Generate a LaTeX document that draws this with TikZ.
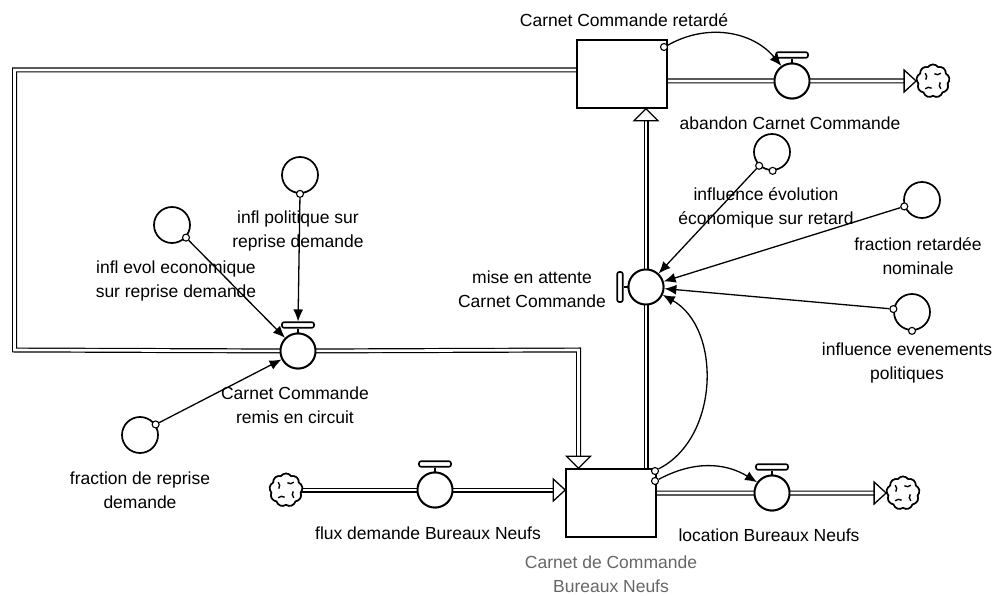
\documentclass[tikz,border=0pt]{standalone}
\usepackage{fontspec}
\setmainfont{Liberation Sans}
\usetikzlibrary{arrows.meta,shapes.symbols,positioning}
\begin{document}
\begin{tikzpicture}[x=1pt,y=-1pt,
  pipe/.style={double=white,double distance=2.6pt,line width=1.2pt},
  ftip/.style={draw,fill=white,line width=1.3pt,line join=miter},
  stock/.style={draw,fill=white,rectangle,minimum width=90pt,minimum height=68pt,line width=1.5pt,inner sep=0},
  valve/.style={draw,fill=white,circle,minimum size=35pt,inner sep=0,line width=1.9pt},
  aux/.style={draw,fill=white,circle,minimum size=36pt,inner sep=0,line width=1.7pt},
  cmark/.style={draw,fill=white,circle,minimum size=7pt,inner sep=0,line width=1.1pt},
  hbar/.style={draw,fill=white,rectangle,rounded corners=2pt,minimum width=32pt,minimum height=5.5pt,inner sep=0,line width=1.6pt},
  vbar/.style={draw,fill=white,rectangle,rounded corners=2pt,minimum width=5.5pt,minimum height=30pt,inner sep=0,line width=1.6pt},
  cloudn/.style={draw,fill=white,cloud,cloud puffs=9,cloud puff arc=110,aspect=1,minimum width=33pt,minimum height=33pt,inner sep=0,line width=1.6pt},
  conn/.style={line width=1.3pt,-{Latex[length=12pt,width=10pt]}},
  lbl/.style={font=\fontsize{17.5}{24}\selectfont,align=center,inner sep=0},
  stem/.style={line width=1.6pt}
]
\useasboundingbox (0,0) rectangle (996,596);

% coordinates for pipe bends
\coordinate (k1) at (14.5,70);
\coordinate (k2) at (14.5,350);
\coordinate (k3) at (578.5,350);

% node positions (placed first so that the pipes can refer to them)
\path (622,74) node[stock] (sA) {};
\path (611,503) node[stock] (sB) {};
\path (792,81) node[valve] (vAb) {};
\path (298,351) node[valve] (vRe) {};
\path (646,287) node[valve] (vMa) {};
\path (435,490) node[valve] (vFl) {};
\path (772,493) node[valve] (vLo) {};
\path (933,81) node[cloudn] (cAb) {};
\path (286,490) node[cloudn] (cFl) {};
\path (903,493) node[cloudn] (cLo) {};

% pipes
\draw[pipe] (sA.west |- k1) -- (k1) -- (k2) -- (vRe.center);
\draw[pipe] (vRe.center) -- (k3) -- ([yshift=12pt]k3 |- sB.north);
\draw[pipe] (sB.north -| vMa) -- ([yshift=-12pt]sA.south -| vMa);
\draw[pipe] (sA.east |- vAb) -- (vAb.center) -- ([xshift=-12pt]cAb.west);
\draw[pipe] (cFl.center) -- (vFl.center) -- ([xshift=-12pt]sB.west |- vFl);
\draw[pipe] (sB.east |- vLo) -- (vLo.center) -- ([xshift=-12pt]cLo.west);

% redraw nodes on top of pipes
\path (622,74) node[stock] (sA) {};
\path (611,503) node[stock] (sB) {};
\path (792,81) node[valve] (vAb) {};
\path (298,351) node[valve] (vRe) {};
\path (646,287) node[valve] (vMa) {};
\path (435,490) node[valve] (vFl) {};
\path (772,493) node[valve] (vLo) {};
\path (933,81) node[cloudn] (cAb) {};
\path (286,490) node[cloudn] (cFl) {};
\path (903,493) node[cloudn] (cLo) {};

\foreach \c in {cAb,cFl,cLo}{
  \foreach \a in {45,135,225,315}{
    \draw[line width=1.4pt] ([shift={(\a:11pt)}]\c.center) arc[start angle=\a-90, delta angle=-80, radius=5pt];
  }
}

% valve handles
\node[hbar, above=4pt of vAb] (hAb) {};
\node[hbar, above=4pt of vRe] (hRe) {};
\node[hbar, above=4pt of vFl] (hFl) {};
\node[hbar, above=4pt of vLo] (hLo) {};
\node[vbar, left=4pt of vMa] (hMa) {};
\draw[stem] (vAb.north) -- (hAb.south);
\draw[stem] (vRe.north) -- (hRe.south);
\draw[stem] (vFl.north) -- (hFl.south);
\draw[stem] (vLo.north) -- (hLo.south);
\draw[stem] (vMa.west) -- (hMa.east);

% flow arrowheads
\draw[ftip] (k3 |- sB.north) -- ++(-12,-12) -- ++(24,0) -- cycle;
\draw[ftip] (sA.south -| vMa) -- ++(-12,12) -- ++(24,0) -- cycle;
\draw[ftip] (cAb.west) -- ++(-12,-11) -- ++(0,22) -- cycle;
\draw[ftip] (sB.west |- vFl) -- ++(-12,-11) -- ++(0,22) -- cycle;
\draw[ftip] (cLo.west) -- ++(-12,-11) -- ++(0,22) -- cycle;

% auxiliaries
\node[aux] (aIeE) at (772,152) {};
\node[aux] (aFrn) at (922,200) {};
\node[aux] (aIep) at (912,312) {};
\node[aux] (aIp) at (300,175) {};
\node[aux] (aIee) at (172,225) {};
\node[aux] (aFdr) at (140,435) {};

% connector origin marks
\node[cmark] (mIeE) at (aIeE.227) {};
\node[cmark] (mIeE2) at (aIeE.272) {};
\node[cmark] (mFrn) at (aFrn.200) {};
\node[cmark] (mIep) at (aIep.171) {};
\node[cmark] (mIep2) at (aIep.270) {};
\node[cmark] (mIp) at (aIp.270) {};
\node[cmark] (mIee) at (aIee.318) {};
\node[cmark] (mFdr) at (aFdr.34) {};
\node[cmark] (mA) at (664,47) {};
\node[cmark] (mB1) at (655,471) {};
\node[cmark] (mB2) at (655,481) {};

% connectors
\draw[conn] (mA) to[bend left=40] (vAb);
\draw[conn] (mIeE) -- (vMa);
\draw[conn] (mFrn) -- (vMa);
\draw[conn] (mIep) -- (vMa);
\draw[conn] (mB1) to[bend right=62] (vMa);
\draw[conn] (mB2) to[bend left=30] (vLo);
\draw[conn] (mIp) -- (hRe);
\draw[conn] (mIee) -- (vRe);
\draw[conn] (mFdr) -- (vRe);

% labels
\node[lbl] (lA) at (624,20) {Carnet Commande retardé};
\node[lbl] (lAb) at (790,123) {abandon Carnet Commande};
\node[lbl] (lIeE) at (766,208) {influence évolution\\économique sur retard};
\node[lbl] (lFrn) at (918,256) {fraction retardée\\nominale};
\node[lbl] (lMa) at (532,289) {mise en attente\\Carnet Commande};
\node[lbl] (lIep) at (907,363) {influence evenements\\politiques};
\node[lbl] (lIp) at (298,231) {infl politique sur\\reprise demande};
\node[lbl] (lIee) at (176,281) {infl evol economique\\sur reprise demande};
\node[lbl] (lRe) at (295,405) {Carnet Commande\\remis en circuit};
\node[lbl] (lFdr) at (140,490) {fraction de reprise\\demande};
\node[lbl] (lFl) at (428,533) {flux demande Bureaux Neufs};
\node[lbl] (lLo) at (769,535) {location Bureaux Neufs};
\node[lbl,text=black!60] (lB) at (611,574) {Carnet de Commande\\Bureaux Neufs};
\end{tikzpicture}
\end{document}
